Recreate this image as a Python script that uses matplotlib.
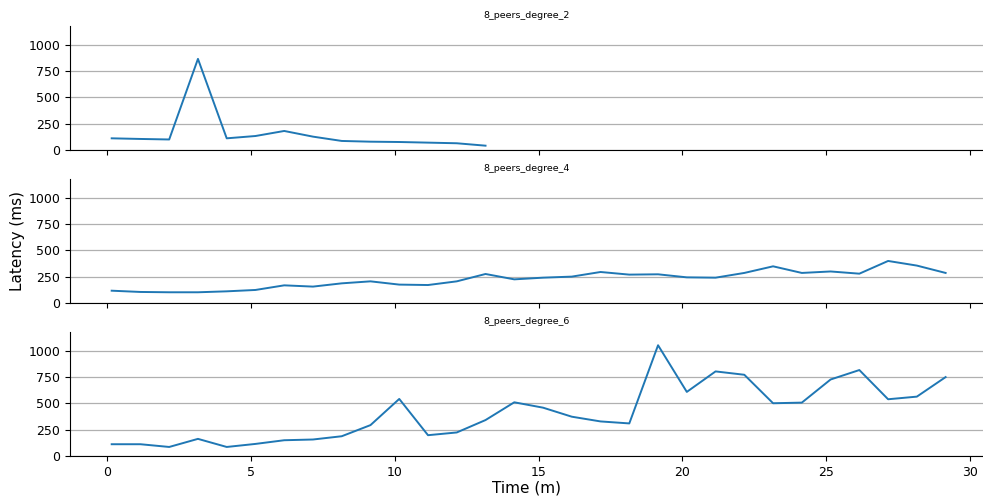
import numpy as np
import matplotlib
matplotlib.use("Agg")
import matplotlib.pyplot as plt

## Latency per minute, one series per peer degree
titles = ["8_peers_degree_2", "8_peers_degree_4", "8_peers_degree_6"]

time_deg2 = [0.15 + k for k in range(14)]
latency_deg2 = [111, 105, 100, 867, 111, 133, 181, 127, 86, 79, 76, 70, 64, 41]

time_deg4 = [0.15 + k for k in range(30)]
latency_deg4 = [117, 105, 102, 102, 111, 124, 168, 156, 187, 206,
                175, 171, 206, 276, 225, 241, 251, 295, 270, 273,
                244, 241, 286, 349, 286, 300, 279, 400, 356, 286]

time_deg6 = [0.15 + k for k in range(30)]
latency_deg6 = [112, 112, 86, 163, 86, 115, 150, 157, 188, 294,
                543, 198, 224, 342, 511, 460, 374, 329, 310, 1054,
                610, 805, 773, 502, 508, 728, 818, 540, 565, 751]

series = [(time_deg2, latency_deg2), (time_deg4, latency_deg4), (time_deg6, latency_deg6)]

fig, axes = plt.subplots(3, 1, figsize=(9.83, 4.97), dpi=100, sharex=True, sharey=True)
fig.subplots_adjust(left=0.0712, right=1.0, bottom=0.0825, top=0.9477, hspace=0.234)

for ax, title, (t, lat) in zip(axes, titles, series):
    ax.plot(t, lat, color='#1f77b4', linewidth=1.4)
    ax.set_title(title, fontsize=6.8)
    ax.yaxis.grid(True, color='#b0b0b0', linewidth=0.9)
    ax.set_axisbelow(True)
    ax.spines['top'].set_visible(False)
    ax.spines['right'].set_visible(False)
    ax.tick_params(labelsize=9)

axes[0].set_xlim(-1.3, 30.45)
axes[0].set_ylim(0, 1180)
axes[0].set_yticks([0, 250, 500, 750, 1000])
axes[0].set_xticks([0, 5, 10, 15, 20, 25, 30])

axes[2].set_xlabel("Time (m)", fontsize=11, labelpad=1.5)
fig.text(0.018, 0.515, "Latency (ms)", rotation=90, va='center', ha='center', fontsize=11)

plt.savefig("out.png", dpi=100)
